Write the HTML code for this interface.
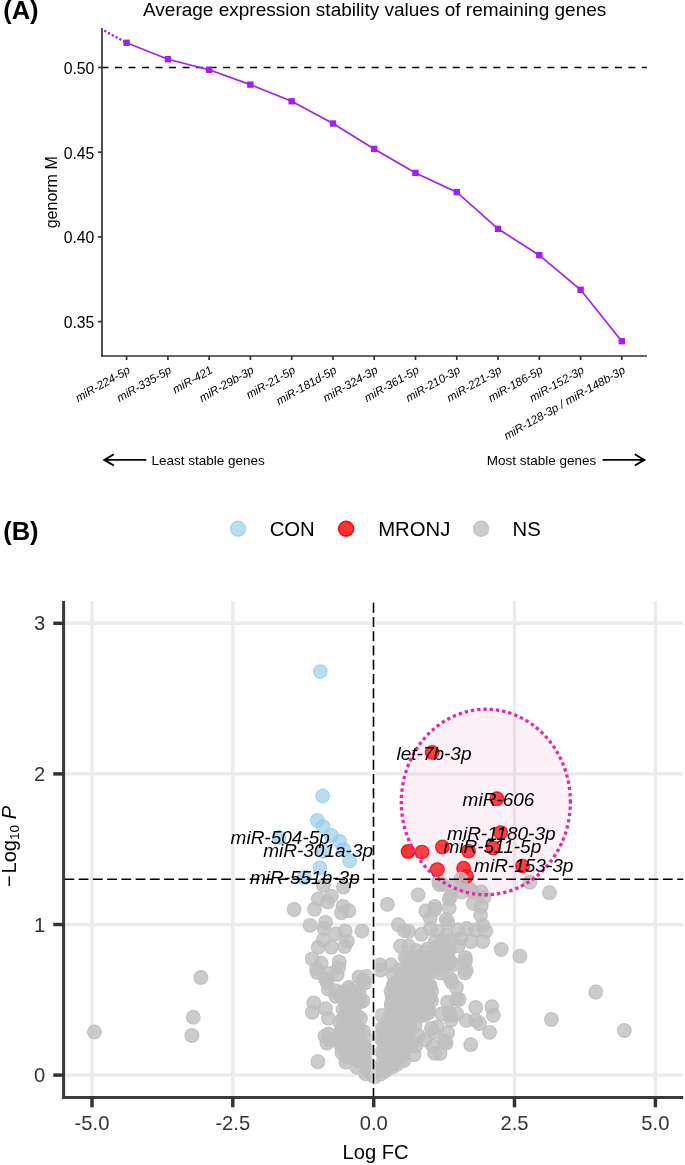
<!DOCTYPE html>
<html><head><meta charset="utf-8"><style>
html,body{margin:0;padding:0;background:#fff;}
svg{display:block;will-change:transform;}
text{font-family:"Liberation Sans", sans-serif;}
</style></head><body>
<svg width="685" height="1165" viewBox="0 0 685 1165" font-family='"Liberation Sans", sans-serif'>
<defs>
<radialGradient id="gg"><stop offset="0.80" stop-color="rgb(191,191,191)" stop-opacity="0.8"/><stop offset="0.81" stop-color="rgb(191,191,191)" stop-opacity="0.95"/><stop offset="1" stop-color="rgb(191,191,191)" stop-opacity="0.95"/></radialGradient>
<radialGradient id="gb"><stop offset="0.80" stop-color="rgb(150,203,235)" stop-opacity="0.66"/><stop offset="0.81" stop-color="rgb(150,203,235)" stop-opacity="0.82"/><stop offset="1" stop-color="rgb(150,203,235)" stop-opacity="0.82"/></radialGradient>
<radialGradient id="gr"><stop offset="0.80" stop-color="rgb(252,0,0)" stop-opacity="0.8"/><stop offset="0.81" stop-color="rgb(245,0,0)" stop-opacity="0.96"/><stop offset="1" stop-color="rgb(245,0,0)" stop-opacity="0.96"/></radialGradient>
</defs>
<rect width="685" height="1165" fill="#fff"/>
<text x="3.2" y="19.4" font-size="25.5" font-weight="bold" fill="#000">(A)</text>
<text x="143" y="16.1" font-size="19" fill="#000">Average expression stability values of remaining genes</text>
<line x1="101.5" y1="67.5" x2="646.8" y2="67.5" stroke="#000" stroke-width="1.55" stroke-dasharray="7 6.51"/>
<line x1="102.0" y1="28.0" x2="102.0" y2="356.8" stroke="#333" stroke-width="1.7"/>
<line x1="101.2" y1="356.0" x2="647.0" y2="356.0" stroke="#333" stroke-width="1.7"/>
<line x1="98" y1="67.5" x2="102.0" y2="67.5" stroke="#333" stroke-width="1.7"/>
<text x="94.4" y="74.0" font-size="15.8" text-anchor="end" fill="#000">0.50</text>
<line x1="98" y1="152.2" x2="102.0" y2="152.2" stroke="#333" stroke-width="1.7"/>
<text x="94.4" y="158.7" font-size="15.8" text-anchor="end" fill="#000">0.45</text>
<line x1="98" y1="236.9" x2="102.0" y2="236.9" stroke="#333" stroke-width="1.7"/>
<text x="94.4" y="243.4" font-size="15.8" text-anchor="end" fill="#000">0.40</text>
<line x1="98" y1="321.6" x2="102.0" y2="321.6" stroke="#333" stroke-width="1.7"/>
<text x="94.4" y="328.1" font-size="15.8" text-anchor="end" fill="#000">0.35</text>
<line x1="126.6" y1="356.0" x2="126.6" y2="360.0" stroke="#333" stroke-width="1.7"/>
<line x1="167.9" y1="356.0" x2="167.9" y2="360.0" stroke="#333" stroke-width="1.7"/>
<line x1="209.1" y1="356.0" x2="209.1" y2="360.0" stroke="#333" stroke-width="1.7"/>
<line x1="250.4" y1="356.0" x2="250.4" y2="360.0" stroke="#333" stroke-width="1.7"/>
<line x1="291.7" y1="356.0" x2="291.7" y2="360.0" stroke="#333" stroke-width="1.7"/>
<line x1="333.0" y1="356.0" x2="333.0" y2="360.0" stroke="#333" stroke-width="1.7"/>
<line x1="374.2" y1="356.0" x2="374.2" y2="360.0" stroke="#333" stroke-width="1.7"/>
<line x1="415.5" y1="356.0" x2="415.5" y2="360.0" stroke="#333" stroke-width="1.7"/>
<line x1="456.8" y1="356.0" x2="456.8" y2="360.0" stroke="#333" stroke-width="1.7"/>
<line x1="498.0" y1="356.0" x2="498.0" y2="360.0" stroke="#333" stroke-width="1.7"/>
<line x1="539.3" y1="356.0" x2="539.3" y2="360.0" stroke="#333" stroke-width="1.7"/>
<line x1="580.6" y1="356.0" x2="580.6" y2="360.0" stroke="#333" stroke-width="1.7"/>
<line x1="621.8" y1="356.0" x2="621.8" y2="360.0" stroke="#333" stroke-width="1.7"/>
<text transform="translate(130.9,372.3) rotate(-29.5)" font-size="11.6" font-style="italic" text-anchor="end" fill="#000">miR-224-5p</text>
<text transform="translate(172.2,372.3) rotate(-29.5)" font-size="11.6" font-style="italic" text-anchor="end" fill="#000">miR-335-5p</text>
<text transform="translate(213.4,372.3) rotate(-29.5)" font-size="11.6" font-style="italic" text-anchor="end" fill="#000">miR-421</text>
<text transform="translate(254.7,372.3) rotate(-29.5)" font-size="11.6" font-style="italic" text-anchor="end" fill="#000">miR-29b-3p</text>
<text transform="translate(296.0,372.3) rotate(-29.5)" font-size="11.6" font-style="italic" text-anchor="end" fill="#000">miR-21-5p</text>
<text transform="translate(337.3,372.3) rotate(-29.5)" font-size="11.6" font-style="italic" text-anchor="end" fill="#000">miR-181d-5p</text>
<text transform="translate(378.5,372.3) rotate(-29.5)" font-size="11.6" font-style="italic" text-anchor="end" fill="#000">miR-324-3p</text>
<text transform="translate(419.8,372.3) rotate(-29.5)" font-size="11.6" font-style="italic" text-anchor="end" fill="#000">miR-361-5p</text>
<text transform="translate(461.1,372.3) rotate(-29.5)" font-size="11.6" font-style="italic" text-anchor="end" fill="#000">miR-210-3p</text>
<text transform="translate(502.3,372.3) rotate(-29.5)" font-size="11.6" font-style="italic" text-anchor="end" fill="#000">miR-221-3p</text>
<text transform="translate(543.6,372.3) rotate(-29.5)" font-size="11.6" font-style="italic" text-anchor="end" fill="#000">miR-186-5p</text>
<text transform="translate(584.9,372.3) rotate(-29.5)" font-size="11.6" font-style="italic" text-anchor="end" fill="#000">miR-152-3p</text>
<text transform="translate(626.1,372.3) rotate(-29.5)" font-size="11.6" font-style="italic" text-anchor="end" fill="#000">miR-128-3p / miR-148b-3p</text>
<text transform="translate(57,192.3) rotate(-90)" font-size="16" text-anchor="middle" fill="#000">genorm M</text>
<line x1="105.2" y1="31.2" x2="126.6" y2="42.8" stroke="#A020F0" stroke-width="2.6" stroke-dasharray="0.01 4.3" stroke-linecap="round"/>
<polyline points="126.6,42.8 167.9,59.2 209.1,69.8 250.4,84.6 291.7,101.3 333.0,123.5 374.2,148.9 415.5,172.9 456.8,192.2 498.0,228.8 539.3,255.2 580.6,289.8 621.8,341.2" fill="none" stroke="#A020F0" stroke-width="1.7"/>
<rect x="123.4" y="39.6" width="6.4" height="6.4" fill="#A020F0"/>
<rect x="164.7" y="56.0" width="6.4" height="6.4" fill="#A020F0"/>
<rect x="205.9" y="66.6" width="6.4" height="6.4" fill="#A020F0"/>
<rect x="247.2" y="81.4" width="6.4" height="6.4" fill="#A020F0"/>
<rect x="288.5" y="98.1" width="6.4" height="6.4" fill="#A020F0"/>
<rect x="329.8" y="120.3" width="6.4" height="6.4" fill="#A020F0"/>
<rect x="371.0" y="145.7" width="6.4" height="6.4" fill="#A020F0"/>
<rect x="412.3" y="169.7" width="6.4" height="6.4" fill="#A020F0"/>
<rect x="453.6" y="189.0" width="6.4" height="6.4" fill="#A020F0"/>
<rect x="494.8" y="225.6" width="6.4" height="6.4" fill="#A020F0"/>
<rect x="536.1" y="252.0" width="6.4" height="6.4" fill="#A020F0"/>
<rect x="577.4" y="286.6" width="6.4" height="6.4" fill="#A020F0"/>
<rect x="618.6" y="338.0" width="6.4" height="6.4" fill="#A020F0"/>
<line x1="146.3" y1="459.9" x2="104.3" y2="459.9" stroke="#000" stroke-width="1.9"/>
<polyline points="113.8,454.29999999999995 104.3,459.9 113.8,465.5" fill="none" stroke="#000" stroke-width="1.9" stroke-linejoin="miter"/>
<line x1="602.6" y1="459.9" x2="644.3" y2="459.9" stroke="#000" stroke-width="1.9"/>
<polyline points="634.8,454.29999999999995 644.3,459.9 634.8,465.5" fill="none" stroke="#000" stroke-width="1.9" stroke-linejoin="miter"/>
<text x="151.5" y="464.5" font-size="13.5" fill="#000">Least stable genes</text>
<text x="486.8" y="464.5" font-size="13.5" fill="#000">Most stable genes</text>
<text x="3.2" y="539.6" font-size="25.5" font-weight="bold" fill="#000">(B)</text>
<circle cx="238" cy="528.8" r="8.2" fill="url(#gb)"/>
<text x="269.7" y="536.2" font-size="20.3" fill="#000">CON</text>
<circle cx="346.1" cy="528.8" r="8.2" fill="url(#gr)"/>
<text x="378.2" y="536.2" font-size="20.3" fill="#000">MRONJ</text>
<circle cx="481.1" cy="528.8" r="8.2" fill="url(#gg)"/>
<text x="512.5" y="536.2" font-size="20.3" fill="#000">NS</text>
<line x1="92.0" y1="601.0" x2="92.0" y2="1096.0" stroke="#EBEBEB" stroke-width="3.4"/>
<line x1="232.8" y1="601.0" x2="232.8" y2="1096.0" stroke="#EBEBEB" stroke-width="3.4"/>
<line x1="514.5" y1="601.0" x2="514.5" y2="1096.0" stroke="#EBEBEB" stroke-width="3.4"/>
<line x1="655.4" y1="601.0" x2="655.4" y2="1096.0" stroke="#EBEBEB" stroke-width="3.4"/>
<line x1="65.0" y1="1075.1" x2="683.2" y2="1075.1" stroke="#EBEBEB" stroke-width="3.4"/>
<line x1="65.0" y1="924.5" x2="683.2" y2="924.5" stroke="#EBEBEB" stroke-width="3.4"/>
<line x1="65.0" y1="773.9" x2="683.2" y2="773.9" stroke="#EBEBEB" stroke-width="3.4"/>
<line x1="65.0" y1="623.3" x2="683.2" y2="623.3" stroke="#EBEBEB" stroke-width="3.4"/>
<line x1="373.5" y1="601.0" x2="373.5" y2="1096.0" stroke="#fff" stroke-width="5"/>
<circle cx="436.4" cy="951.1" r="7.4" fill="url(#gg)"/>
<circle cx="443.1" cy="950.7" r="7.4" fill="url(#gg)"/>
<circle cx="405.2" cy="957.2" r="7.4" fill="url(#gg)"/>
<circle cx="412.1" cy="957.3" r="7.4" fill="url(#gg)"/>
<circle cx="418.2" cy="957.0" r="7.4" fill="url(#gg)"/>
<circle cx="425.3" cy="957.4" r="7.4" fill="url(#gg)"/>
<circle cx="433.6" cy="954.9" r="7.4" fill="url(#gg)"/>
<circle cx="438.4" cy="955.2" r="7.4" fill="url(#gg)"/>
<circle cx="447.9" cy="955.9" r="7.4" fill="url(#gg)"/>
<circle cx="408.5" cy="963.4" r="7.4" fill="url(#gg)"/>
<circle cx="416.1" cy="963.6" r="7.4" fill="url(#gg)"/>
<circle cx="422.5" cy="961.1" r="7.4" fill="url(#gg)"/>
<circle cx="430.1" cy="963.5" r="7.4" fill="url(#gg)"/>
<circle cx="437.2" cy="962.3" r="7.4" fill="url(#gg)"/>
<circle cx="443.6" cy="961.3" r="7.4" fill="url(#gg)"/>
<circle cx="451.0" cy="962.3" r="7.4" fill="url(#gg)"/>
<circle cx="410.9" cy="969.0" r="7.4" fill="url(#gg)"/>
<circle cx="419.6" cy="966.8" r="7.4" fill="url(#gg)"/>
<circle cx="425.8" cy="966.8" r="7.4" fill="url(#gg)"/>
<circle cx="433.2" cy="967.7" r="7.4" fill="url(#gg)"/>
<circle cx="440.6" cy="969.6" r="7.4" fill="url(#gg)"/>
<circle cx="393.1" cy="974.0" r="7.4" fill="url(#gg)"/>
<circle cx="401.3" cy="973.2" r="7.4" fill="url(#gg)"/>
<circle cx="406.6" cy="975.4" r="7.4" fill="url(#gg)"/>
<circle cx="414.4" cy="975.6" r="7.4" fill="url(#gg)"/>
<circle cx="423.2" cy="973.9" r="7.4" fill="url(#gg)"/>
<circle cx="428.9" cy="974.3" r="7.4" fill="url(#gg)"/>
<circle cx="398.9" cy="980.4" r="7.4" fill="url(#gg)"/>
<circle cx="404.6" cy="978.8" r="7.4" fill="url(#gg)"/>
<circle cx="411.2" cy="980.5" r="7.4" fill="url(#gg)"/>
<circle cx="417.1" cy="980.7" r="7.4" fill="url(#gg)"/>
<circle cx="425.9" cy="979.0" r="7.4" fill="url(#gg)"/>
<circle cx="393.3" cy="986.2" r="7.4" fill="url(#gg)"/>
<circle cx="401.3" cy="985.8" r="7.4" fill="url(#gg)"/>
<circle cx="407.6" cy="985.8" r="7.4" fill="url(#gg)"/>
<circle cx="414.6" cy="986.7" r="7.4" fill="url(#gg)"/>
<circle cx="421.4" cy="986.0" r="7.4" fill="url(#gg)"/>
<circle cx="429.8" cy="985.0" r="7.4" fill="url(#gg)"/>
<circle cx="391.1" cy="991.2" r="7.4" fill="url(#gg)"/>
<circle cx="397.0" cy="991.9" r="7.4" fill="url(#gg)"/>
<circle cx="405.5" cy="992.2" r="7.4" fill="url(#gg)"/>
<circle cx="412.6" cy="991.4" r="7.4" fill="url(#gg)"/>
<circle cx="418.0" cy="992.9" r="7.4" fill="url(#gg)"/>
<circle cx="426.7" cy="992.3" r="7.4" fill="url(#gg)"/>
<circle cx="431.7" cy="991.3" r="7.4" fill="url(#gg)"/>
<circle cx="394.9" cy="998.0" r="7.4" fill="url(#gg)"/>
<circle cx="399.9" cy="997.9" r="7.4" fill="url(#gg)"/>
<circle cx="408.9" cy="997.8" r="7.4" fill="url(#gg)"/>
<circle cx="414.5" cy="998.2" r="7.4" fill="url(#gg)"/>
<circle cx="421.8" cy="998.2" r="7.4" fill="url(#gg)"/>
<circle cx="430.3" cy="997.5" r="7.4" fill="url(#gg)"/>
<circle cx="391.2" cy="1005.6" r="7.4" fill="url(#gg)"/>
<circle cx="398.0" cy="1004.6" r="7.4" fill="url(#gg)"/>
<circle cx="403.9" cy="1004.1" r="7.4" fill="url(#gg)"/>
<circle cx="410.7" cy="1003.3" r="7.4" fill="url(#gg)"/>
<circle cx="418.8" cy="1003.9" r="7.4" fill="url(#gg)"/>
<circle cx="426.4" cy="1003.2" r="7.4" fill="url(#gg)"/>
<circle cx="394.5" cy="1010.7" r="7.4" fill="url(#gg)"/>
<circle cx="400.7" cy="1011.9" r="7.4" fill="url(#gg)"/>
<circle cx="408.3" cy="1010.1" r="7.4" fill="url(#gg)"/>
<circle cx="414.3" cy="1011.7" r="7.4" fill="url(#gg)"/>
<circle cx="421.9" cy="1011.5" r="7.4" fill="url(#gg)"/>
<circle cx="428.6" cy="1009.7" r="7.4" fill="url(#gg)"/>
<circle cx="390.9" cy="1017.8" r="7.4" fill="url(#gg)"/>
<circle cx="396.1" cy="1016.0" r="7.4" fill="url(#gg)"/>
<circle cx="403.8" cy="1016.8" r="7.4" fill="url(#gg)"/>
<circle cx="411.3" cy="1016.6" r="7.4" fill="url(#gg)"/>
<circle cx="419.3" cy="1015.2" r="7.4" fill="url(#gg)"/>
<circle cx="424.2" cy="1015.6" r="7.4" fill="url(#gg)"/>
<circle cx="386.6" cy="1023.2" r="7.4" fill="url(#gg)"/>
<circle cx="394.3" cy="1022.3" r="7.4" fill="url(#gg)"/>
<circle cx="400.1" cy="1022.2" r="7.4" fill="url(#gg)"/>
<circle cx="406.9" cy="1022.9" r="7.4" fill="url(#gg)"/>
<circle cx="383.5" cy="1029.4" r="7.4" fill="url(#gg)"/>
<circle cx="390.3" cy="1029.4" r="7.4" fill="url(#gg)"/>
<circle cx="397.4" cy="1028.0" r="7.4" fill="url(#gg)"/>
<circle cx="404.6" cy="1029.4" r="7.4" fill="url(#gg)"/>
<circle cx="410.2" cy="1028.6" r="7.4" fill="url(#gg)"/>
<circle cx="380.5" cy="1036.0" r="7.4" fill="url(#gg)"/>
<circle cx="387.9" cy="1035.4" r="7.4" fill="url(#gg)"/>
<circle cx="394.7" cy="1035.1" r="7.4" fill="url(#gg)"/>
<circle cx="399.8" cy="1035.1" r="7.4" fill="url(#gg)"/>
<circle cx="406.5" cy="1033.8" r="7.4" fill="url(#gg)"/>
<circle cx="384.9" cy="1041.2" r="7.4" fill="url(#gg)"/>
<circle cx="391.4" cy="1039.5" r="7.4" fill="url(#gg)"/>
<circle cx="398.3" cy="1041.0" r="7.4" fill="url(#gg)"/>
<circle cx="405.1" cy="1039.8" r="7.4" fill="url(#gg)"/>
<circle cx="412.2" cy="1042.2" r="7.4" fill="url(#gg)"/>
<circle cx="386.6" cy="1046.7" r="7.4" fill="url(#gg)"/>
<circle cx="392.7" cy="1047.0" r="7.4" fill="url(#gg)"/>
<circle cx="402.4" cy="1046.7" r="7.4" fill="url(#gg)"/>
<circle cx="408.7" cy="1046.0" r="7.4" fill="url(#gg)"/>
<circle cx="383.3" cy="1053.7" r="7.4" fill="url(#gg)"/>
<circle cx="389.6" cy="1052.4" r="7.4" fill="url(#gg)"/>
<circle cx="396.6" cy="1053.3" r="7.4" fill="url(#gg)"/>
<circle cx="403.9" cy="1052.3" r="7.4" fill="url(#gg)"/>
<circle cx="386.5" cy="1059.9" r="7.4" fill="url(#gg)"/>
<circle cx="392.9" cy="1060.6" r="7.4" fill="url(#gg)"/>
<circle cx="400.9" cy="1059.4" r="7.4" fill="url(#gg)"/>
<circle cx="384.0" cy="1066.6" r="7.4" fill="url(#gg)"/>
<circle cx="391.6" cy="1064.4" r="7.4" fill="url(#gg)"/>
<circle cx="396.6" cy="1064.5" r="7.4" fill="url(#gg)"/>
<circle cx="385.5" cy="1070.7" r="7.4" fill="url(#gg)"/>
<circle cx="335.5" cy="990.6" r="7.4" fill="url(#gg)"/>
<circle cx="343.2" cy="991.6" r="7.4" fill="url(#gg)"/>
<circle cx="349.7" cy="990.1" r="7.4" fill="url(#gg)"/>
<circle cx="356.9" cy="991.5" r="7.4" fill="url(#gg)"/>
<circle cx="340.3" cy="996.0" r="7.4" fill="url(#gg)"/>
<circle cx="345.5" cy="997.8" r="7.4" fill="url(#gg)"/>
<circle cx="353.3" cy="997.3" r="7.4" fill="url(#gg)"/>
<circle cx="350.3" cy="1003.3" r="7.4" fill="url(#gg)"/>
<circle cx="357.2" cy="1002.8" r="7.4" fill="url(#gg)"/>
<circle cx="346.8" cy="1008.8" r="7.4" fill="url(#gg)"/>
<circle cx="352.5" cy="1009.0" r="7.4" fill="url(#gg)"/>
<circle cx="348.3" cy="1014.1" r="7.4" fill="url(#gg)"/>
<circle cx="357.3" cy="1016.0" r="7.4" fill="url(#gg)"/>
<circle cx="339.9" cy="1022.1" r="7.4" fill="url(#gg)"/>
<circle cx="346.3" cy="1020.3" r="7.4" fill="url(#gg)"/>
<circle cx="352.7" cy="1020.5" r="7.4" fill="url(#gg)"/>
<circle cx="343.3" cy="1026.0" r="7.4" fill="url(#gg)"/>
<circle cx="350.4" cy="1028.6" r="7.4" fill="url(#gg)"/>
<circle cx="357.8" cy="1027.1" r="7.4" fill="url(#gg)"/>
<circle cx="339.6" cy="1032.9" r="7.4" fill="url(#gg)"/>
<circle cx="347.1" cy="1033.4" r="7.4" fill="url(#gg)"/>
<circle cx="353.3" cy="1034.2" r="7.4" fill="url(#gg)"/>
<circle cx="358.5" cy="1034.3" r="7.4" fill="url(#gg)"/>
<circle cx="336.0" cy="1039.5" r="7.4" fill="url(#gg)"/>
<circle cx="342.6" cy="1039.4" r="7.4" fill="url(#gg)"/>
<circle cx="348.6" cy="1039.6" r="7.4" fill="url(#gg)"/>
<circle cx="355.1" cy="1039.6" r="7.4" fill="url(#gg)"/>
<circle cx="340.2" cy="1044.5" r="7.4" fill="url(#gg)"/>
<circle cx="346.9" cy="1046.0" r="7.4" fill="url(#gg)"/>
<circle cx="351.7" cy="1045.2" r="7.4" fill="url(#gg)"/>
<circle cx="342.0" cy="1052.8" r="7.4" fill="url(#gg)"/>
<circle cx="350.1" cy="1050.6" r="7.4" fill="url(#gg)"/>
<circle cx="357.6" cy="1052.0" r="7.4" fill="url(#gg)"/>
<circle cx="347.1" cy="1057.6" r="7.4" fill="url(#gg)"/>
<circle cx="353.8" cy="1057.7" r="7.4" fill="url(#gg)"/>
<circle cx="358.8" cy="1056.4" r="7.4" fill="url(#gg)"/>
<circle cx="435.3" cy="941.5" r="7.4" fill="url(#gg)"/>
<circle cx="441.9" cy="941.0" r="7.4" fill="url(#gg)"/>
<circle cx="450.3" cy="940.8" r="7.4" fill="url(#gg)"/>
<circle cx="439.7" cy="946.7" r="7.4" fill="url(#gg)"/>
<circle cx="445.6" cy="947.2" r="7.4" fill="url(#gg)"/>
<circle cx="94.4" cy="1031.9" r="7.4" fill="url(#gg)"/>
<circle cx="200.9" cy="977.5" r="7.4" fill="url(#gg)"/>
<circle cx="193.3" cy="1017.2" r="7.4" fill="url(#gg)"/>
<circle cx="191.9" cy="1035.5" r="7.4" fill="url(#gg)"/>
<circle cx="323.4" cy="885.3" r="7.4" fill="url(#gg)"/>
<circle cx="343.4" cy="887.0" r="7.4" fill="url(#gg)"/>
<circle cx="318.2" cy="899" r="7.4" fill="url(#gg)"/>
<circle cx="331.3" cy="896.1" r="7.4" fill="url(#gg)"/>
<circle cx="327.7" cy="901.9" r="7.4" fill="url(#gg)"/>
<circle cx="294.1" cy="909.5" r="7.4" fill="url(#gg)"/>
<circle cx="314.5" cy="909.2" r="7.4" fill="url(#gg)"/>
<circle cx="343" cy="906.3" r="7.4" fill="url(#gg)"/>
<circle cx="348.8" cy="910.7" r="7.4" fill="url(#gg)"/>
<circle cx="341.5" cy="912.8" r="7.4" fill="url(#gg)"/>
<circle cx="310.1" cy="925.3" r="7.4" fill="url(#gg)"/>
<circle cx="325.5" cy="922.3" r="7.4" fill="url(#gg)"/>
<circle cx="324" cy="928.2" r="7.4" fill="url(#gg)"/>
<circle cx="362" cy="931.1" r="7.4" fill="url(#gg)"/>
<circle cx="345.2" cy="931.1" r="7.4" fill="url(#gg)"/>
<circle cx="335.7" cy="934" r="7.4" fill="url(#gg)"/>
<circle cx="323.3" cy="939.9" r="7.4" fill="url(#gg)"/>
<circle cx="347.4" cy="941.3" r="7.4" fill="url(#gg)"/>
<circle cx="318.2" cy="947.2" r="7.4" fill="url(#gg)"/>
<circle cx="331.3" cy="947.2" r="7.4" fill="url(#gg)"/>
<circle cx="344.5" cy="946.4" r="7.4" fill="url(#gg)"/>
<circle cx="312.3" cy="958.8" r="7.4" fill="url(#gg)"/>
<circle cx="321.1" cy="963.2" r="7.4" fill="url(#gg)"/>
<circle cx="339.3" cy="961.8" r="7.4" fill="url(#gg)"/>
<circle cx="316.7" cy="969" r="7.4" fill="url(#gg)"/>
<circle cx="338.6" cy="967.6" r="7.4" fill="url(#gg)"/>
<circle cx="328.4" cy="973.4" r="7.4" fill="url(#gg)"/>
<circle cx="359" cy="977.1" r="7.4" fill="url(#gg)"/>
<circle cx="366.4" cy="976.4" r="7.4" fill="url(#gg)"/>
<circle cx="325.5" cy="978.8" r="7.4" fill="url(#gg)"/>
<circle cx="337.2" cy="974.4" r="7.4" fill="url(#gg)"/>
<circle cx="328.4" cy="989" r="7.4" fill="url(#gg)"/>
<circle cx="335.7" cy="996.3" r="7.4" fill="url(#gg)"/>
<circle cx="348.8" cy="987.5" r="7.4" fill="url(#gg)"/>
<circle cx="364.9" cy="983.1" r="7.4" fill="url(#gg)"/>
<circle cx="359" cy="993.4" r="7.4" fill="url(#gg)"/>
<circle cx="313.8" cy="1002.8" r="7.4" fill="url(#gg)"/>
<circle cx="312.3" cy="1012.3" r="7.4" fill="url(#gg)"/>
<circle cx="325.5" cy="1008.7" r="7.4" fill="url(#gg)"/>
<circle cx="328.4" cy="1018.2" r="7.4" fill="url(#gg)"/>
<circle cx="343" cy="1009.4" r="7.4" fill="url(#gg)"/>
<circle cx="354.7" cy="1005" r="7.4" fill="url(#gg)"/>
<circle cx="360.5" cy="1002.1" r="7.4" fill="url(#gg)"/>
<circle cx="343" cy="1018.2" r="7.4" fill="url(#gg)"/>
<circle cx="360.5" cy="1018.2" r="7.4" fill="url(#gg)"/>
<circle cx="328.4" cy="1034.2" r="7.4" fill="url(#gg)"/>
<circle cx="326.9" cy="1043" r="7.4" fill="url(#gg)"/>
<circle cx="340.1" cy="1034.2" r="7.4" fill="url(#gg)"/>
<circle cx="351.8" cy="1032.8" r="7.4" fill="url(#gg)"/>
<circle cx="363.4" cy="1031.3" r="7.4" fill="url(#gg)"/>
<circle cx="344.5" cy="1050.3" r="7.4" fill="url(#gg)"/>
<circle cx="357.6" cy="1043" r="7.4" fill="url(#gg)"/>
<circle cx="364.9" cy="1051.8" r="7.4" fill="url(#gg)"/>
<circle cx="345.9" cy="1062" r="7.4" fill="url(#gg)"/>
<circle cx="357.6" cy="1060.5" r="7.4" fill="url(#gg)"/>
<circle cx="366.4" cy="1063.4" r="7.4" fill="url(#gg)"/>
<circle cx="317.9" cy="1061.7" r="7.4" fill="url(#gg)"/>
<circle cx="326.9" cy="982" r="7.4" fill="url(#gg)"/>
<circle cx="317.2" cy="972.4" r="7.4" fill="url(#gg)"/>
<circle cx="362.9" cy="980.2" r="7.4" fill="url(#gg)"/>
<circle cx="362.9" cy="1000.7" r="7.4" fill="url(#gg)"/>
<circle cx="364.4" cy="1045.9" r="7.4" fill="url(#gg)"/>
<circle cx="365.8" cy="1060.5" r="7.4" fill="url(#gg)"/>
<circle cx="380.4" cy="970" r="7.4" fill="url(#gg)"/>
<circle cx="393.6" cy="984.6" r="7.4" fill="url(#gg)"/>
<circle cx="392.1" cy="996.3" r="7.4" fill="url(#gg)"/>
<circle cx="391.4" cy="1003.6" r="7.4" fill="url(#gg)"/>
<circle cx="403.8" cy="978.8" r="7.4" fill="url(#gg)"/>
<circle cx="408.2" cy="991.9" r="7.4" fill="url(#gg)"/>
<circle cx="421.3" cy="984.6" r="7.4" fill="url(#gg)"/>
<circle cx="430.1" cy="987.5" r="7.4" fill="url(#gg)"/>
<circle cx="431.5" cy="1000.7" r="7.4" fill="url(#gg)"/>
<circle cx="421.3" cy="1003.6" r="7.4" fill="url(#gg)"/>
<circle cx="411.1" cy="1010.9" r="7.4" fill="url(#gg)"/>
<circle cx="381.9" cy="1015.3" r="7.4" fill="url(#gg)"/>
<circle cx="398" cy="1013.8" r="7.4" fill="url(#gg)"/>
<circle cx="381.9" cy="1028.4" r="7.4" fill="url(#gg)"/>
<circle cx="396.5" cy="1025.5" r="7.4" fill="url(#gg)"/>
<circle cx="409.6" cy="1024" r="7.4" fill="url(#gg)"/>
<circle cx="418.4" cy="1035.7" r="7.4" fill="url(#gg)"/>
<circle cx="381.9" cy="1040.1" r="7.4" fill="url(#gg)"/>
<circle cx="398" cy="1038.6" r="7.4" fill="url(#gg)"/>
<circle cx="415.5" cy="1045.9" r="7.4" fill="url(#gg)"/>
<circle cx="381.9" cy="1051.8" r="7.4" fill="url(#gg)"/>
<circle cx="398" cy="1051.8" r="7.4" fill="url(#gg)"/>
<circle cx="414" cy="1054.7" r="7.4" fill="url(#gg)"/>
<circle cx="381.9" cy="1063.4" r="7.4" fill="url(#gg)"/>
<circle cx="393.6" cy="1063.4" r="7.4" fill="url(#gg)"/>
<circle cx="403.8" cy="1060.5" r="7.4" fill="url(#gg)"/>
<circle cx="420" cy="1015" r="7.4" fill="url(#gg)"/>
<circle cx="428" cy="1013" r="7.4" fill="url(#gg)"/>
<circle cx="405" cy="1000" r="7.4" fill="url(#gg)"/>
<circle cx="415" cy="1025" r="7.4" fill="url(#gg)"/>
<circle cx="425" cy="1040" r="7.4" fill="url(#gg)"/>
<circle cx="405" cy="1035" r="7.4" fill="url(#gg)"/>
<circle cx="390" cy="1045" r="7.4" fill="url(#gg)"/>
<circle cx="400" cy="970" r="7.4" fill="url(#gg)"/>
<circle cx="412" cy="975" r="7.4" fill="url(#gg)"/>
<circle cx="425" cy="972" r="7.4" fill="url(#gg)"/>
<circle cx="395" cy="1030" r="7.4" fill="url(#gg)"/>
<circle cx="390" cy="1015" r="7.4" fill="url(#gg)"/>
<circle cx="388" cy="1058" r="7.4" fill="url(#gg)"/>
<circle cx="372" cy="1068" r="7.4" fill="url(#gg)"/>
<circle cx="440.3" cy="972.9" r="7.4" fill="url(#gg)"/>
<circle cx="450.5" cy="978.8" r="7.4" fill="url(#gg)"/>
<circle cx="456.4" cy="987.5" r="7.4" fill="url(#gg)"/>
<circle cx="456.4" cy="999.2" r="7.4" fill="url(#gg)"/>
<circle cx="447.6" cy="1002.1" r="7.4" fill="url(#gg)"/>
<circle cx="441.8" cy="1013.8" r="7.4" fill="url(#gg)"/>
<circle cx="450.5" cy="1015.3" r="7.4" fill="url(#gg)"/>
<circle cx="431.5" cy="1028.4" r="7.4" fill="url(#gg)"/>
<circle cx="437.4" cy="1026.9" r="7.4" fill="url(#gg)"/>
<circle cx="447.6" cy="1032.8" r="7.4" fill="url(#gg)"/>
<circle cx="446.1" cy="1043" r="7.4" fill="url(#gg)"/>
<circle cx="433" cy="1045.9" r="7.4" fill="url(#gg)"/>
<circle cx="434.5" cy="1053.2" r="7.4" fill="url(#gg)"/>
<circle cx="445.8" cy="965.8" r="7.4" fill="url(#gg)"/>
<circle cx="453.1" cy="964.4" r="7.4" fill="url(#gg)"/>
<circle cx="465.5" cy="960.7" r="7.4" fill="url(#gg)"/>
<circle cx="466.3" cy="970.2" r="7.4" fill="url(#gg)"/>
<circle cx="464.8" cy="973.1" r="7.4" fill="url(#gg)"/>
<circle cx="451.7" cy="981.9" r="7.4" fill="url(#gg)"/>
<circle cx="459" cy="999.4" r="7.4" fill="url(#gg)"/>
<circle cx="475.8" cy="1007.4" r="7.4" fill="url(#gg)"/>
<circle cx="491.8" cy="1006.7" r="7.4" fill="url(#gg)"/>
<circle cx="493.3" cy="1015.2" r="7.4" fill="url(#gg)"/>
<circle cx="448.8" cy="1012.6" r="7.4" fill="url(#gg)"/>
<circle cx="456.8" cy="1014" r="7.4" fill="url(#gg)"/>
<circle cx="451" cy="1019.9" r="7.4" fill="url(#gg)"/>
<circle cx="466.3" cy="1020.6" r="7.4" fill="url(#gg)"/>
<circle cx="475.8" cy="1020.6" r="7.4" fill="url(#gg)"/>
<circle cx="479.4" cy="1023.5" r="7.4" fill="url(#gg)"/>
<circle cx="489.6" cy="1032.3" r="7.4" fill="url(#gg)"/>
<circle cx="470.7" cy="1044.7" r="7.4" fill="url(#gg)"/>
<circle cx="440" cy="1053.4" r="7.4" fill="url(#gg)"/>
<circle cx="529.9" cy="882.2" r="7.4" fill="url(#gg)"/>
<circle cx="549.5" cy="892.7" r="7.4" fill="url(#gg)"/>
<circle cx="501.2" cy="949.5" r="7.4" fill="url(#gg)"/>
<circle cx="519.9" cy="956.2" r="7.4" fill="url(#gg)"/>
<circle cx="595.8" cy="992" r="7.4" fill="url(#gg)"/>
<circle cx="551.4" cy="1019.5" r="7.4" fill="url(#gg)"/>
<circle cx="624.3" cy="1030.5" r="7.4" fill="url(#gg)"/>
<circle cx="442.6" cy="884.6" r="7.4" fill="url(#gg)"/>
<circle cx="452.8" cy="886.8" r="7.4" fill="url(#gg)"/>
<circle cx="461.6" cy="891.9" r="7.4" fill="url(#gg)"/>
<circle cx="472.6" cy="891.9" r="7.4" fill="url(#gg)"/>
<circle cx="481.3" cy="891.9" r="7.4" fill="url(#gg)"/>
<circle cx="449.2" cy="899.2" r="7.4" fill="url(#gg)"/>
<circle cx="473.3" cy="903.6" r="7.4" fill="url(#gg)"/>
<circle cx="481.3" cy="906.5" r="7.4" fill="url(#gg)"/>
<circle cx="449.2" cy="908" r="7.4" fill="url(#gg)"/>
<circle cx="425.8" cy="910.9" r="7.4" fill="url(#gg)"/>
<circle cx="434.6" cy="909.4" r="7.4" fill="url(#gg)"/>
<circle cx="480.6" cy="915.3" r="7.4" fill="url(#gg)"/>
<circle cx="430.2" cy="918.2" r="7.4" fill="url(#gg)"/>
<circle cx="446.3" cy="919.6" r="7.4" fill="url(#gg)"/>
<circle cx="447.7" cy="922.6" r="7.4" fill="url(#gg)"/>
<circle cx="482.8" cy="925.5" r="7.4" fill="url(#gg)"/>
<circle cx="458" cy="929.9" r="7.4" fill="url(#gg)"/>
<circle cx="466.7" cy="928.4" r="7.4" fill="url(#gg)"/>
<circle cx="475.5" cy="929.9" r="7.4" fill="url(#gg)"/>
<circle cx="485.7" cy="931.3" r="7.4" fill="url(#gg)"/>
<circle cx="421.5" cy="934.2" r="7.4" fill="url(#gg)"/>
<circle cx="437.5" cy="931.3" r="7.4" fill="url(#gg)"/>
<circle cx="446.3" cy="935.7" r="7.4" fill="url(#gg)"/>
<circle cx="460.9" cy="938.6" r="7.4" fill="url(#gg)"/>
<circle cx="471.1" cy="941.5" r="7.4" fill="url(#gg)"/>
<circle cx="482.8" cy="941.5" r="7.4" fill="url(#gg)"/>
<circle cx="458" cy="945.9" r="7.4" fill="url(#gg)"/>
<circle cx="449.2" cy="950.3" r="7.4" fill="url(#gg)"/>
<circle cx="436.1" cy="947.4" r="7.4" fill="url(#gg)"/>
<circle cx="425.8" cy="951.8" r="7.4" fill="url(#gg)"/>
<circle cx="465.3" cy="957.6" r="7.4" fill="url(#gg)"/>
<circle cx="449.2" cy="960.5" r="7.4" fill="url(#gg)"/>
<circle cx="434.6" cy="962" r="7.4" fill="url(#gg)"/>
<circle cx="424.4" cy="963.4" r="7.4" fill="url(#gg)"/>
<circle cx="418.1" cy="894.8" r="7.4" fill="url(#gg)"/>
<circle cx="387.4" cy="904.3" r="7.4" fill="url(#gg)"/>
<circle cx="434.9" cy="906.5" r="7.4" fill="url(#gg)"/>
<circle cx="439.3" cy="884.6" r="7.4" fill="url(#gg)"/>
<circle cx="398.4" cy="924.7" r="7.4" fill="url(#gg)"/>
<circle cx="404.2" cy="930.6" r="7.4" fill="url(#gg)"/>
<circle cx="408.6" cy="931.3" r="7.4" fill="url(#gg)"/>
<circle cx="430.5" cy="928.4" r="7.4" fill="url(#gg)"/>
<circle cx="400.6" cy="945.9" r="7.4" fill="url(#gg)"/>
<circle cx="408.6" cy="945.9" r="7.4" fill="url(#gg)"/>
<circle cx="415.9" cy="950.3" r="7.4" fill="url(#gg)"/>
<circle cx="427.6" cy="948.8" r="7.4" fill="url(#gg)"/>
<circle cx="407.2" cy="957.6" r="7.4" fill="url(#gg)"/>
<circle cx="420.3" cy="959.1" r="7.4" fill="url(#gg)"/>
<circle cx="432" cy="957.6" r="7.4" fill="url(#gg)"/>
<circle cx="380.1" cy="964.9" r="7.4" fill="url(#gg)"/>
<circle cx="391.1" cy="964.9" r="7.4" fill="url(#gg)"/>
<circle cx="410" cy="965" r="7.4" fill="url(#gg)"/>
<circle cx="425" cy="968" r="7.4" fill="url(#gg)"/>
<circle cx="438" cy="960" r="7.4" fill="url(#gg)"/>
<circle cx="356.9" cy="1067.2" r="7.4" fill="url(#gg)"/>
<circle cx="365.7" cy="1073.8" r="7.4" fill="url(#gg)"/>
<circle cx="374.4" cy="1077.1" r="7.4" fill="url(#gg)"/>
<circle cx="381" cy="1073.8" r="7.4" fill="url(#gg)"/>
<circle cx="392" cy="1067.2" r="7.4" fill="url(#gg)"/>
<circle cx="444.5" cy="1041" r="7.4" fill="url(#gg)"/>
<circle cx="433.6" cy="1032.2" r="7.4" fill="url(#gg)"/>
<circle cx="366" cy="1038" r="7.4" fill="url(#gg)"/>
<circle cx="368" cy="1070" r="7.4" fill="url(#gg)"/>
<circle cx="378" cy="1070" r="7.4" fill="url(#gg)"/>
<circle cx="372" cy="1074" r="7.4" fill="url(#gg)"/>
<circle cx="330" cy="1040" r="7.4" fill="url(#gg)"/>
<circle cx="325" cy="1036" r="7.4" fill="url(#gg)"/>
<circle cx="367" cy="1050" r="7.4" fill="url(#gg)"/>
<circle cx="438.8" cy="881.3" r="7.4" fill="url(#gg)"/>
<circle cx="462.2" cy="884.2" r="7.4" fill="url(#gg)"/>
<circle cx="450.5" cy="896.6" r="7.4" fill="url(#gg)"/>
<circle cx="470.9" cy="890" r="7.4" fill="url(#gg)"/>
<circle cx="484" cy="897.4" r="7.4" fill="url(#gg)"/>
<circle cx="320.3" cy="671.6" r="7.4" fill="url(#gb)"/>
<circle cx="322.7" cy="796.0" r="7.4" fill="url(#gb)"/>
<circle cx="317.3" cy="820.5" r="7.4" fill="url(#gb)"/>
<circle cx="323" cy="826.6" r="7.4" fill="url(#gb)"/>
<circle cx="331.3" cy="835.4" r="7.4" fill="url(#gb)"/>
<circle cx="339.6" cy="841.5" r="7.4" fill="url(#gb)"/>
<circle cx="343.5" cy="849.4" r="7.4" fill="url(#gb)"/>
<circle cx="349.7" cy="860.8" r="7.4" fill="url(#gb)"/>
<circle cx="323.4" cy="851.2" r="7.4" fill="url(#gb)"/>
<circle cx="319.9" cy="867.8" r="7.4" fill="url(#gb)"/>
<circle cx="279.2" cy="837.3" r="7.4" fill="url(#gb)"/>
<circle cx="304.3" cy="877.4" r="7.4" fill="url(#gb)"/>
<circle cx="432.2" cy="752.4" r="7.4" fill="url(#gr)"/>
<circle cx="496.9" cy="798.7" r="7.4" fill="url(#gr)"/>
<circle cx="500.6" cy="832.6" r="7.4" fill="url(#gr)"/>
<circle cx="493.3" cy="847.9" r="7.4" fill="url(#gr)"/>
<circle cx="468.6" cy="851.1" r="7.4" fill="url(#gr)"/>
<circle cx="442.4" cy="847" r="7.4" fill="url(#gr)"/>
<circle cx="408.1" cy="851.4" r="7.4" fill="url(#gr)"/>
<circle cx="422" cy="852.1" r="7.4" fill="url(#gr)"/>
<circle cx="437.3" cy="869.6" r="7.4" fill="url(#gr)"/>
<circle cx="463.6" cy="868.2" r="7.4" fill="url(#gr)"/>
<circle cx="466.5" cy="876.2" r="7.4" fill="url(#gr)"/>
<circle cx="522.5" cy="866.1" r="7.4" fill="url(#gr)"/>
<circle cx="460.9" cy="879.2" r="7.4" fill="url(#gg)"/>
<ellipse cx="485.85" cy="802" rx="84.55" ry="92.75" fill="rgba(240,150,200,0.14)" stroke="#E22AA4" stroke-width="3.3" stroke-dasharray="0.01 6.3" stroke-linecap="square"/>
<line x1="373.5" y1="601.0" x2="373.5" y2="1096.0" stroke="rgba(255,255,255,0.35)" stroke-width="4.8"/>
<line x1="373.5" y1="602.7" x2="373.5" y2="1096.0" stroke="#000" stroke-width="1.6" stroke-dasharray="10 4.27"/>
<line x1="64.4" y1="879.2" x2="683.2" y2="879.2" stroke="#000" stroke-width="1.6" stroke-dasharray="9.8 4.45"/>
<line x1="63.6" y1="601.0" x2="63.6" y2="1097.4" stroke="#3a3a3a" stroke-width="3"/>
<line x1="62.1" y1="1097.4" x2="683.2" y2="1097.4" stroke="#3a3a3a" stroke-width="3"/>
<line x1="53.3" y1="1075.1" x2="63.6" y2="1075.1" stroke="#333" stroke-width="3.5"/>
<text x="45.3" y="1082.2" font-size="20.2" text-anchor="end" fill="#333">0</text>
<line x1="53.3" y1="924.5" x2="63.6" y2="924.5" stroke="#333" stroke-width="3.5"/>
<text x="45.3" y="931.6" font-size="20.2" text-anchor="end" fill="#333">1</text>
<line x1="53.3" y1="773.9" x2="63.6" y2="773.9" stroke="#333" stroke-width="3.5"/>
<text x="45.3" y="781.0" font-size="20.2" text-anchor="end" fill="#333">2</text>
<line x1="53.3" y1="623.3" x2="63.6" y2="623.3" stroke="#333" stroke-width="3.5"/>
<text x="45.3" y="630.4" font-size="20.2" text-anchor="end" fill="#333">3</text>
<line x1="92.0" y1="1097.4" x2="92.0" y2="1107.3" stroke="#333" stroke-width="3.5"/>
<text x="92.0" y="1130" font-size="20.2" text-anchor="middle" fill="#333">-5.0</text>
<line x1="232.8" y1="1097.4" x2="232.8" y2="1107.3" stroke="#333" stroke-width="3.5"/>
<text x="232.8" y="1130" font-size="20.2" text-anchor="middle" fill="#333">-2.5</text>
<line x1="373.7" y1="1097.4" x2="373.7" y2="1107.3" stroke="#333" stroke-width="3.5"/>
<text x="373.7" y="1130" font-size="20.2" text-anchor="middle" fill="#333">0.0</text>
<line x1="514.5" y1="1097.4" x2="514.5" y2="1107.3" stroke="#333" stroke-width="3.5"/>
<text x="514.5" y="1130" font-size="20.2" text-anchor="middle" fill="#333">2.5</text>
<line x1="655.4" y1="1097.4" x2="655.4" y2="1107.3" stroke="#333" stroke-width="3.5"/>
<text x="655.4" y="1130" font-size="20.2" text-anchor="middle" fill="#333">5.0</text>
<text x="342.5" y="1159.2" font-size="20.2" fill="#000">Log FC</text>
<text transform="translate(15.9,846.4) rotate(-90)" font-size="20.2" text-anchor="middle" fill="#000">&#8722;<tspan dx="1.6">Log</tspan><tspan font-size="13.5" dy="3">10</tspan><tspan dy="-3"> </tspan><tspan font-style="italic">P</tspan></text>
<text x="396.5" y="759.8" font-size="19" font-style="italic" fill="#000">let-7b-3p</text>
<text x="462.6" y="805.6" font-size="19" font-style="italic" fill="#000">miR-606</text>
<text x="447.1" y="840.2" font-size="19" font-style="italic" fill="#000">miR-1180-3p</text>
<text x="443.4" y="853.2" font-size="19" font-style="italic" fill="#000">miR-511-5p</text>
<text x="474.1" y="871.6" font-size="19" font-style="italic" fill="#000">miR-153-3p</text>
<text x="230.6" y="843.5" font-size="19" font-style="italic" fill="#000">miR-504-5p</text>
<text x="263.2" y="857.0" font-size="19" font-style="italic" fill="#000">miR-301a-3p</text>
<text x="249.9" y="883.5" font-size="19" font-style="italic" fill="#000">miR-551b-3p</text>
</svg></body></html>
